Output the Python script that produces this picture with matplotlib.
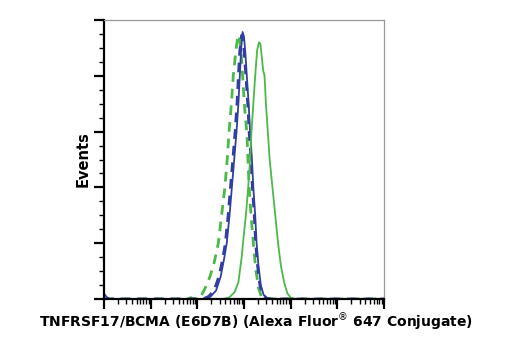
import numpy as np
import matplotlib
matplotlib.use("Agg")
import matplotlib.pyplot as plt
from matplotlib.ticker import LogLocator, MultipleLocator, NullFormatter
from matplotlib import font_manager

# log10 fluorescence, events
blue_solid_x = [0.0, 0.05, 0.12, 1.5, 2.15, 2.28, 2.40, 2.50, 2.58, 2.63, 2.69, 2.74, 2.79, 2.84, 2.88, 2.91, 2.94,
                2.97, 3.00, 3.03, 3.06, 3.10, 3.13, 3.17, 3.20, 3.24, 3.27, 3.31, 3.36, 3.42, 3.50, 3.60, 6.0]
blue_solid_y = [20, 8, 0, 0, 0, 8, 30, 80, 150, 200, 300, 400, 500, 600, 700, 800, 900,
                957, 940, 880, 800, 700, 600, 500, 400, 300, 200, 120, 50, 15, 3, 0, 0]

blue_dash_x = [0.0, 2.12, 2.25, 2.37, 2.47, 2.55, 2.60, 2.66, 2.71, 2.76, 2.81, 2.85, 2.88, 2.91,
               2.95, 2.98, 3.01, 3.04, 3.08, 3.11, 3.15, 3.18, 3.22, 3.25, 3.29, 3.34, 3.40, 3.48, 3.58, 6.0]
blue_dash_y = [0, 0, 10, 35, 85, 150, 200, 300, 400, 500, 600, 700, 800, 890,
               945, 930, 870, 800, 700, 600, 500, 400, 300, 200, 120, 50, 15, 3, 0, 0]

green_dash_x = [0.0, 1.80, 1.86, 1.92, 2.06, 2.17, 2.27, 2.36, 2.45, 2.52, 2.59, 2.64, 2.68, 2.73, 2.77,
                2.82, 2.87, 2.90, 2.94, 2.97, 3.00, 3.03, 3.06, 3.09, 3.11, 3.15, 3.20, 3.25,
                3.31, 3.38, 3.45, 6.0]
green_dash_y = [0, 0, 5, 0, 5, 40, 80, 130, 200, 300, 400, 500, 600, 700, 800,
                880, 946, 940, 880, 800, 720, 650, 600, 480, 400, 300, 200, 110,
                40, 5, 0, 0]

green_solid_x = [0.0, 2.55, 2.68, 2.80, 2.88, 2.95, 2.99, 3.04, 3.09, 3.13, 3.16, 3.20, 3.24, 3.28, 3.32,
                 3.35, 3.38, 3.41, 3.44, 3.47, 3.51, 3.55, 3.61, 3.67, 3.73, 3.79, 3.86, 3.93,
                 4.00, 4.10, 6.0]
green_solid_y = [0, 0, 5, 25, 60, 150, 220, 300, 400, 500, 600, 700, 800, 890, 920,
                 915, 870, 820, 800, 700, 600, 500, 400, 300, 200, 120, 60, 20,
                 5, 0, 0]

BLUE = "#3140a0"
GREEN = "#4cb848"

names = {f.name for f in font_manager.fontManager.ttflist}
if 'DejaVu Sans Condensed' in names:
    FAM = ['DejaVu Sans Condensed', 'DejaVu Sans']
    FSX, FSY = 11.2, 12
else:
    FAM = ['DejaVu Sans']
    FSX, FSY = 10, 10.5
plt.rcParams['font.family'] = FAM

fig = plt.figure(figsize=(5.2, 3.5), dpi=100)
ax = fig.add_axes([104/520, 51/350, 280/520, 279/350])

ax.plot(np.power(10.0, green_dash_x), green_dash_y, color=GREEN, lw=2.0, ls=(0, (3.5, 2.5)))
ax.plot(np.power(10.0, blue_dash_x), blue_dash_y, color=BLUE, lw=2.0, ls=(0, (3.5, 2.5)))
ax.plot(np.power(10.0, blue_solid_x), blue_solid_y, color=BLUE, lw=1.3)
ax.plot(np.power(10.0, green_solid_x), green_solid_y, color=GREEN, lw=1.3)

ax.set_xscale('log')
ax.set_xlim(1, 1e6)
ax.set_ylim(0, 1000)
ax.xaxis.set_major_locator(LogLocator(base=10, numticks=10))
ax.xaxis.set_minor_locator(LogLocator(base=10, subs=np.arange(2, 10), numticks=20))
ax.xaxis.set_major_formatter(NullFormatter())
ax.xaxis.set_minor_formatter(NullFormatter())
ax.yaxis.set_major_locator(MultipleLocator(200))
ax.yaxis.set_minor_locator(MultipleLocator(50))
ax.yaxis.set_major_formatter(NullFormatter())

ax.tick_params(axis='both', which='major', direction='out', length=7, width=1.6, color='black')
ax.tick_params(axis='both', which='minor', direction='out', length=3.5, width=1.0, color='black')

for s in ['left', 'bottom']:
    ax.spines[s].set_linewidth(1.6)
    ax.spines[s].set_color('black')
for s in ['top', 'right']:
    ax.spines[s].set_linewidth(0.9)
    ax.spines[s].set_color('#999999')

ax.set_ylabel('Events', fontsize=FSY, fontweight='bold')
ax.yaxis.set_label_coords((83 - 104) / 280, 0.5)
ax.set_xlabel('TNFRSF17/BCMA (E6D7B) (Alexa Fluor$^{®}$ 647 Conjugate)', fontsize=FSX,
              fontweight='bold')
ax.xaxis.set_label_coords((256.5 - 104) / 280, -(322 - 299) / 279)
ax.xaxis.label.set_va('center')
ax.yaxis.label.set_va('center')

fig.savefig('out.png', dpi=100)
